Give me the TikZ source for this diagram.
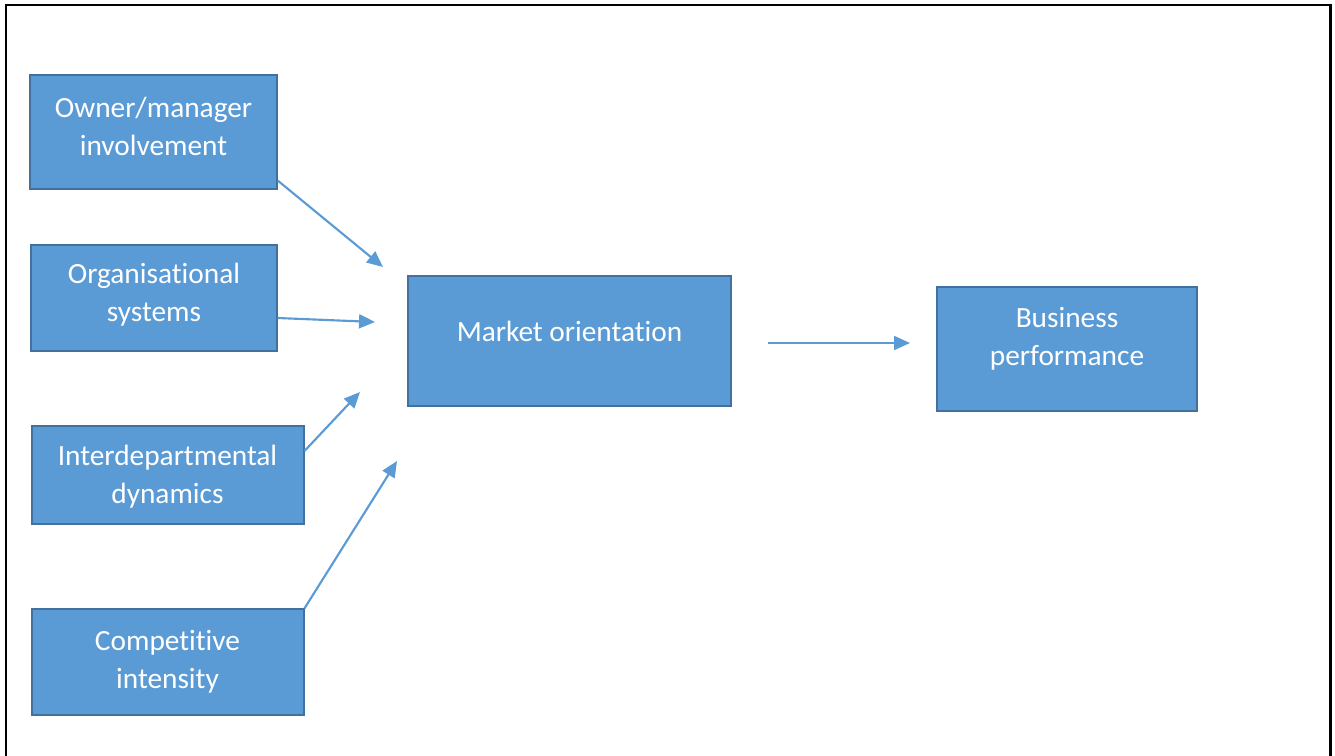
\documentclass[tikz,border=0pt]{standalone}
\usepackage{fontspec}
\setmainfont{Carlito}[RawFeature=-liga]
\usetikzlibrary{arrows.meta,calc}
\definecolor{boxblue}{HTML}{5B9BD5}
\definecolor{boxedge}{HTML}{41719C}

\begin{document}
\begin{tikzpicture}[x=0.75pt,y=-0.75pt,
        box/.style={draw=boxedge,line width=1.5pt,fill=boxblue,text=white,align=center,
                    font=\fontsize{22}{28.5}\selectfont,inner sep=0pt},
        link/.style={draw=boxblue,line width=1.6pt,-{Triangle[length=12pt,width=10.5pt]}}]
                \useasboundingbox (0,0) rectangle (1335,756);
                \draw[line width=2.2pt] (6,760) -- (6,5) -- (1330.5,5) -- (1330.5,760);

                \node[box,minimum width=185pt,minimum height=85pt,text depth=9pt] (owner) at (153.5,132) {Owner/manager\\involvement};
                \node[box,minimum width=184pt,minimum height=80pt,text depth=9pt] (org) at (154,298) {Organisational\\systems};
                \node[box,minimum width=204pt,minimum height=74pt,text depth=1.5pt] (inter) at (167.5,475) {Interdepartmental\\dynamics};
                \node[box,minimum width=204pt,minimum height=79pt] (comp) at (167.5,662) {Competitive\\intensity};
                \node[box,minimum width=242pt,minimum height=98pt,text depth=15pt] (market) at (569.5,341) {Market orientation};
                \node[box,minimum width=195pt,minimum height=93pt,text depth=18pt] (perf) at (1067,348.5) {Business\\performance};

                % free ends of the arrows
                \coordinate (in1) at (383,267);
                \coordinate (in2) at (375,322);
                \coordinate (in3) at (360,392);
                \coordinate (in4) at (397,461);
                \coordinate (out) at ($(market.east)+(36,2)$);
                \coordinate (to) at ($(perf.west)+(-26,-5.5)$);

                \draw[link] ([yshift=6.75pt]owner.south east) -- (in1);
                \draw[link] ([yshift=-15pt]org.east) -- (in2);
                \draw[link] ([yshift=18pt]inter.east) -- (in3);
                \draw[link] (comp.north east) -- (in4);
                \draw[link] (out) -- (to);
            \end{tikzpicture}
\end{document}
